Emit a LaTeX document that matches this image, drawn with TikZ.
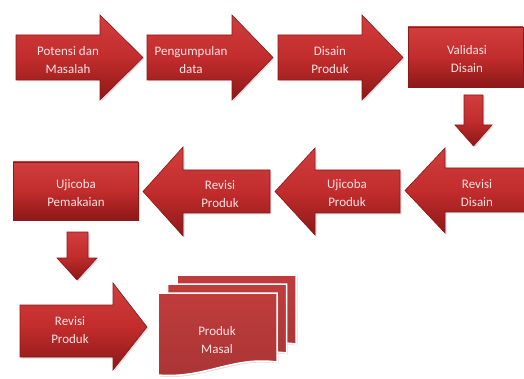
\documentclass[tikz,border=0pt]{standalone}
\usepackage{fontspec}
\setmainfont{Carlito}
\usetikzlibrary{shadows}
\definecolor{merahterang}{RGB}{208,62,62}
\definecolor{merah}{RGB}{194,44,44}
\definecolor{merahgelap}{RGB}{140,24,24}
\definecolor{merahhal}{RGB}{192,60,60}
\definecolor{teksmerah}{RGB}{250,226,226}

\begin{document}
\begin{tikzpicture}[x=1pt,y=-1pt,
  blok/.style={draw=merahgelap, line width=0.6pt, top color=merahterang, bottom color=merahgelap, middle color=merah,
    drop shadow={opacity=0.25, shadow xshift=1.5pt, shadow yshift=-1.5pt}},
  halaman/.style={draw=white, line width=1.5pt, top color=merahhal, bottom color=merahhal!88!black,
    drop shadow={opacity=0.25, shadow xshift=1.5pt, shadow yshift=-1.5pt}},
  teks/.style={text=teksmerah, align=center, font=\fontsize{13}{18}\selectfont}]

    \useasboundingbox[fill=white] (0,0) rectangle (524,379);

    % baris atas
    \draw[blok] (16,35) -- (100,35) -- (100,15) -- (143,57.5) -- (100,100) -- (100,80) -- (16,80) -- cycle;
    \draw[blok] (147,35) -- (232,35) -- (232,15) -- (273,57.5) -- (232,100) -- (232,80) -- (147,80) -- cycle;
    \draw[blok] (278,35) -- (362,35) -- (362,15) -- (403,57.5) -- (362,100) -- (362,80) -- (278,80) -- cycle;
    \draw[blok] (408,27) rectangle (523,87);
    \draw[blok] (464,95) -- (483,95) -- (483,125) -- (492,125) -- (473.5,146) -- (455,125) -- (464,125) -- cycle;

    \node[teks] (potensi) at (68,60) {Potensi dan\\Masalah};
    \node[teks] (kumpul) at (191,60) {Pengumpulan\\data};
    \node[teks] (disain) at (330,60) {Disain\\Produk};
    \node[teks] (validasi) at (467,59) {Validasi\\Disain};

    % baris tengah
    \draw[blok] (530,168) -- (445,168) -- (445,148) -- (405,190.5) -- (445,233) -- (445,212) -- (530,212) -- cycle;
    \draw[blok] (400,170) -- (315,170) -- (315,148) -- (275,191.5) -- (315,235) -- (315,213) -- (400,213) -- cycle;
    \draw[blok] (270,170) -- (183,170) -- (183,147) -- (143,191.5) -- (183,236) -- (183,213) -- (270,213) -- cycle;
    \draw[blok] (13,162) rectangle (138,220);
    \draw[blok] (67,232) -- (88,232) -- (88,258) -- (97,258) -- (77,280) -- (57,258) -- (67,258) -- cycle;

    \node[teks] (revdisain) at (477,193) {Revisi\\Disain};
    \node[teks] (ujiproduk) at (347,193) {Ujicoba\\Produk};
    \node[teks] (revproduk) at (220,194) {Revisi\\Produk};
    \node[teks] (ujipakai) at (76,193) {Ujicoba\\Pemakaian};

    % baris bawah
    \draw[blok] (20,305) -- (113,305) -- (113,283) -- (147,327) -- (113,370) -- (113,357) -- (20,357) -- cycle;
    \foreach \dx/\dy in {19/-18, 9.5/-9, 0/0}
      \draw[halaman, shift={(\dx,\dy)}] (158,293) -- (277,293) -- (277,362)
        .. controls (232,356) and (205,379) .. (158,375) -- cycle;

    \node[teks] (revproduk2) at (70,330) {Revisi\\Produk};
    \node[teks] (masal) at (217,340) {Produk\\Masal};

\end{tikzpicture}
\end{document}
